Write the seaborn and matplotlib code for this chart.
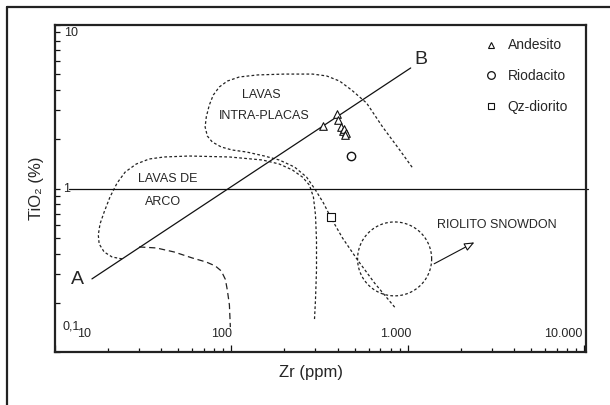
import numpy as np
import pandas as pd
import seaborn as sns
import matplotlib.pyplot as plt
from matplotlib.lines import Line2D

# Estilo visual
sns.set_style("white")
plt.rcParams['font.family'] = ['Liberation Sans', 'DejaVu Sans']

# --- Amostras ---
zr_andesito = [333, 395, 400, 416, 427, 433, 444, 439]
tio2_andesito = [2.41, 2.86, 2.62, 2.38, 2.25, 2.31, 2.19, 2.13]
zr_riodacito = [475]
tio2_riodacito = [1.58]
zr_qzdiorito = [365]
tio2_qzdiorito = [0.67]

# --- Campos do diagrama ---
# Lavas intra-placas (pontilhado)
zr_intra = [844, 649, 520, 427, 365, 333, 300, 267, 228, 187, 154, 122, 101, 87.7, 78.0, 73.1, 71, 72.1,
            75, 79.0, 85.5, 94.9, 111, 141, 200, 289, 347, 411, 481, 585, 721, 901, 1067]
tio2_intra = [0.188, 0.264, 0.365, 0.498, 0.67, 0.815, 0.979, 1.175, 1.354, 1.494, 1.58, 1.672, 1.72, 1.794,
              1.924, 2.094, 2.378, 2.74, 3.24, 3.73, 4.18, 4.54, 4.81, 4.95, 5.01, 5.01, 4.88, 4.54, 4.00,
              3.33, 2.378, 1.72, 1.335]
# Lavas de arco (pontilhado)
zr_arco = [24.0, 21.1, 19.0, 17.8, 17.6, 18.0, 19.0, 20.5, 22.5, 25.0, 28.9, 34.2, 41.6, 57.7, 97.5, 150,
           187, 222, 253, 277, 292, 300, 304, 304, 300, 296]
tio2_arco = [0.371, 0.381, 0.409, 0.458, 0.520, 0.607, 0.718, 0.887, 1.08, 1.261, 1.412, 1.515, 1.559, 1.58,
             1.559, 1.494, 1.412, 1.298, 1.175, 1.05, 0.887, 0.689, 0.484, 0.317, 0.208, 0.157]
# Limite inferior (tracejado)
zr_limite = [30.0, 37.5, 47.4, 60.0, 72.1, 81.1, 87.7, 92.5, 94.9, 97.5, 98.7]
tio2_limite = [0.439, 0.433, 0.409, 0.376, 0.355, 0.336, 0.313, 0.278, 0.239, 0.194, 0.142]
# Linha A-B
zr_ab = [16.2, 1040]
tio2_ab = [0.28, 5.46]
# Riolito Snowdon (centro e raio em decadas log)
snowdon_zr, snowdon_tio2 = 843, 0.371
snowdon_rx, snowdon_ry = 0.210, 0.226

fig = plt.figure(figsize=(6.1, 4.05), dpi=100)
ax = fig.add_axes([55 / 610, 53 / 405, 531 / 610, 327 / 405])
ax.set_xscale('log')
ax.set_yscale('log')
ax.set_xlim(10, 10260)
ax.set_ylim(0.1, 10)

# Campos
dotted = (0, (2.2, 1.8))
sns.lineplot(x=zr_intra, y=tio2_intra, sort=False, estimator=None, color='#222222', lw=0.9, linestyle=dotted, ax=ax)
sns.lineplot(x=zr_arco, y=tio2_arco, sort=False, estimator=None, color='#222222', lw=0.9, linestyle=dotted, ax=ax)
sns.lineplot(x=zr_limite, y=tio2_limite, sort=False, estimator=None, color='#222222', lw=0.9, linestyle=(0, (5, 3)), ax=ax)

t = np.linspace(0, 2 * np.pi, 120)
circ_x = 10 ** (np.log10(snowdon_zr) + snowdon_rx * np.cos(t))
circ_y = 10 ** (np.log10(snowdon_tio2) + snowdon_ry * np.sin(t))
sns.lineplot(x=circ_x, y=circ_y, sort=False, estimator=None, color='#222222', lw=0.9, linestyle=dotted, ax=ax)

# Linha A-B e linha horizontal TiO2 = 1
sns.lineplot(x=zr_ab, y=tio2_ab, sort=False, estimator=None, color='#111111', lw=0.9, ax=ax)
ax.plot([12.0, 10500], [1, 1], color='#111111', lw=0.9, clip_on=False)

# Amostras
sns.scatterplot(x=zr_andesito, y=tio2_andesito, marker='^', s=30, facecolor='white', edgecolor='#111111', linewidth=0.8, ax=ax, zorder=5)
sns.scatterplot(x=zr_riodacito, y=tio2_riodacito, marker='o', s=36, facecolor='white', edgecolor='#111111', linewidth=1.0, ax=ax, zorder=5)
sns.scatterplot(x=zr_qzdiorito, y=tio2_qzdiorito, marker='s', s=30, facecolor='white', edgecolor='#111111', linewidth=0.8, ax=ax, zorder=5)

# Seta Snowdon
ax.annotate('', xy=(2466, 0.477), xytext=(1368, 0.340),
            arrowprops=dict(arrowstyle='-|>,head_length=0.6,head_width=0.25', fc='white', ec='#111111', lw=0.8))

# Textos
ax.text(13.4, 0.278, 'A', fontsize=14, ha='center', va='center')
ax.text(1194, 6.15, 'B', fontsize=14, ha='center', va='center')
ax.text(147, 3.73, 'LAVAS', fontsize=9, ha='center', va='center')
ax.text(153, 2.78, 'INTRA-PLACAS', fontsize=9, ha='center', va='center')
ax.text(43.5, 1.14, 'LAVAS DE', fontsize=9, ha='center', va='center')
ax.text(41.1, 0.827, 'ARCO', fontsize=9, ha='center', va='center')
ax.text(1462, 0.598, 'RIOLITO SNOWDON', fontsize=9, ha='left', va='center')

# Rotulos dos eixos dentro do grafico
ax.text(11.2, 8.93, '10', fontsize=9, ha='left', va='center')
ax.text(11.1, 1.0, '1', fontsize=9, ha='left', va='center')
ax.text(10.96, 0.131, '0,1', fontsize=9, ha='left', va='bottom')
ax.text(16.0, 0.118, '10', fontsize=9, ha='right', va='bottom')
ax.text(101, 0.118, '100', fontsize=9, ha='right', va='bottom')
ax.text(1054, 0.118, '1.000', fontsize=9, ha='right', va='bottom')
ax.text(9750, 0.118, '10.000', fontsize=9, ha='right', va='bottom')

# Ticks
ax.tick_params(axis='both', which='both', direction='in', labelbottom=False, labelleft=False,
               bottom=True, left=True, top=False, right=False, color='#111111')
ax.tick_params(axis='x', which='major', length=5, width=0.9)
ax.tick_params(axis='x', which='minor', length=3, width=0.9)
ax.tick_params(axis='y', which='major', length=3.5, width=0.9)
ax.tick_params(axis='y', which='minor', length=3.5, width=0.9)

for side in ['left', 'right', 'top', 'bottom']:
    ax.spines[side].set_linewidth(1.6)
    ax.spines[side].set_color('#222222')

ax.set_xlabel('Zr (ppm)', fontsize=12)
ax.set_ylabel('TiO₂ (%)', fontsize=12)
ax.xaxis.set_label_coords(0.482, -0.04)
ax.yaxis.set_label_coords(-0.02, 0.5)

# Legenda
handles = [
    Line2D([], [], marker='^', ls='none', mfc='white', mec='#111111', ms=5, mew=0.8),
    Line2D([], [], marker='o', ls='none', mfc='white', mec='#111111', ms=5.5, mew=0.9),
    Line2D([], [], marker='s', ls='none', mfc='white', mec='#111111', ms=5, mew=0.8),
]
ax.legend(handles, ['Andesito', 'Riodacito', 'Qz-diorito'], loc='upper left',
          bbox_to_anchor=(0.789, 0.997), frameon=False, fontsize=10,
          handlelength=0.6, handletextpad=0.92, labelspacing=1.2, borderpad=0.4)

# Moldura externa
fig.add_artist(Line2D([7 / 610, 7 / 610], [0, 1 - 7 / 405], color='#222222', lw=1.6))
fig.add_artist(Line2D([7 / 610, 1], [1 - 7 / 405, 1 - 7 / 405], color='#222222', lw=1.6))

plt.savefig('out.png', dpi=100)
plt.close()
